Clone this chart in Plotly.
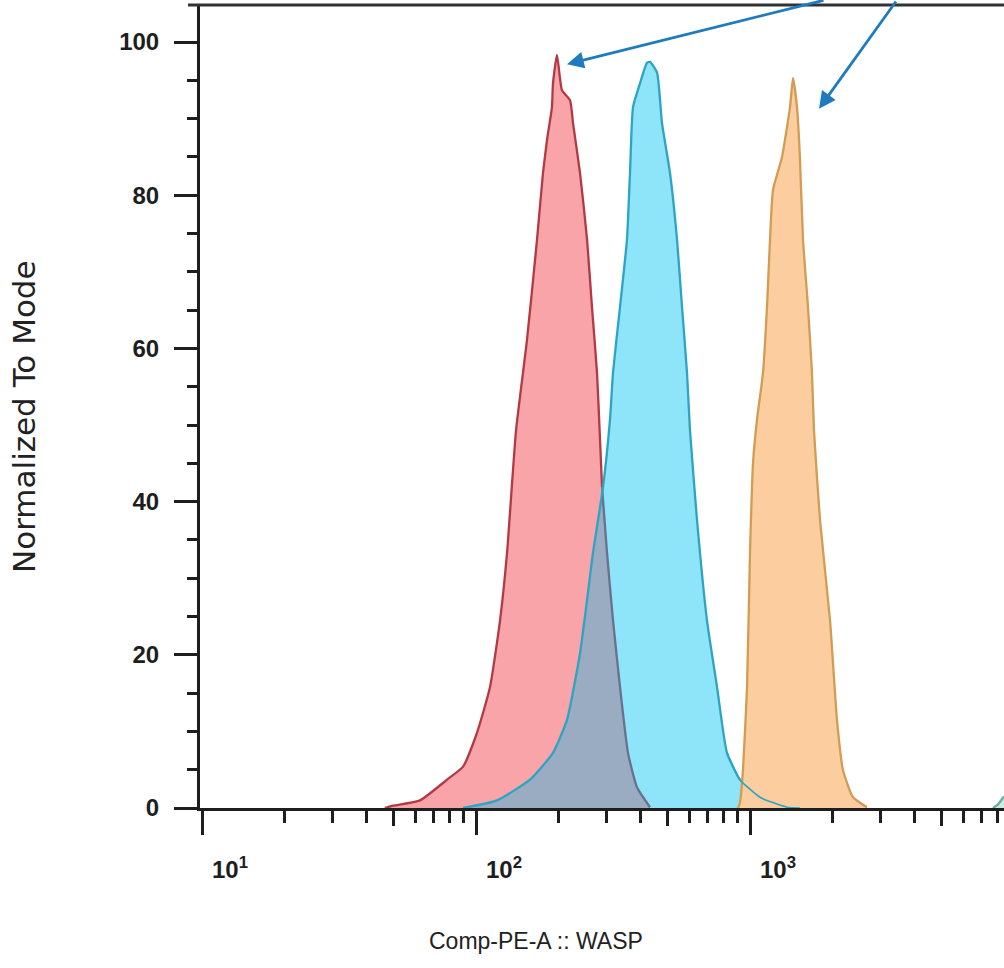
import numpy as np
import plotly.graph_objects as go

# ---------------- data ----------------
red_x = [46.5, 49.8, 62.5, 78.4, 89.7, 100.8, 112.5, 122.4, 129.8, 140.0, 153.5, 167.0,
         175.6, 181.6, 189.3, 191.0, 197.5, 206.0, 220.4, 226.0, 239.7, 254.3, 265.0,
         276.5, 283.6, 288.4, 300.7, 316.2, 335.4, 358.7, 386.9, 431.5]
red_y = [0.0, 0.3, 1.0, 3.7, 5.4, 9.8, 15.8, 24.5, 33.3, 49.3, 61.1, 74.2,
         82.9, 87.2, 91.5, 94.6, 98.3, 93.7, 92.4, 89.4, 82.9, 74.2, 65.4,
         56.8, 48.0, 41.9, 33.3, 24.5, 15.8, 7.2, 2.7, 0.1]

cyan_x = [89.7, 119.3, 157.4, 191.0, 214.8, 239.7, 267.3, 290.8, 308.3, 316.2, 335.4,
          355.6, 364.8, 374.2, 396.7, 420.9, 431.5, 457.8, 477.4, 510.5, 541.6, 564.8,
          589.0, 604.0, 640.7, 696.6, 758.0, 824.2, 919.3, 1088.0, 1365.0, 1521.0]
cyan_y = [0.0, 1.0, 3.7, 7.2, 11.5, 20.2, 33.3, 41.9, 50.7, 56.8, 65.4,
          74.2, 82.9, 91.5, 94.6, 97.3, 97.4, 96.0, 89.4, 82.9, 74.2, 65.4,
          56.8, 49.3, 37.6, 24.5, 15.8, 7.2, 3.7, 1.4, 0.1, 0.0]

orange_x = [903.7, 919.3, 942.7, 975.4, 1000.0, 1025.6, 1060.5, 1115.4, 1153.6, 1183.0,
            1213.4, 1308.9, 1399.6, 1435.6, 1484.3, 1521.0, 1561.0, 1628.0, 1683.0,
            1712.0, 1801.0, 1959.0, 2077.0, 2183.0, 2377.0, 2673.0]
orange_y = [0.0, 0.7, 5.0, 15.8, 33.3, 45.0, 50.7, 56.8, 65.4, 74.2,
            80.7, 85.0, 91.5, 95.3, 91.5, 85.0, 74.2, 65.4, 56.8,
            49.3, 37.6, 24.5, 11.5, 5.0, 1.4, 0.1]

teal_x = [7700.0, 8000.0, 8450.0]
teal_y = [0.0, 0.4, 1.5]

y_major = [0, 20, 40, 60, 80, 100]
x_major = [10, 100, 1000]
x_major_text = ["10<sup>1</sup>", "10<sup>2</sup>", "10<sup>3</sup>"]
x_minor = [m * d for d in (10, 100, 1000) for m in range(2, 10)]
x_mid = [50, 500, 5000]

# ---------------- styling ----------------
RED_FILL, RED_LINE = "#f8a4a8", "#b23a44"
CYAN_FILL, CYAN_LINE = "#8ee4f8", "#2ea4c4"
OVER_FILL, OVER_LINE = "#9aacc2", "#69718c"
ORANGE_FILL, ORANGE_LINE = "#fcce9f", "#d29c52"
TEAL_FILL, TEAL_LINE = "#cdeae6", "#6aaea2"
AX = "#1e1e1e"
SMOOTH = 0.5

# overlap region of red & cyan (computed on a shared grid in log space)
lr, lc = np.log10(red_x), np.log10(cyan_x)
grid = np.unique(np.concatenate([lr, lc]))
grid = grid[(grid >= max(lr.min(), lc.min())) & (grid <= min(lr.max(), lc.max()))]
ov = np.minimum(np.interp(grid, lr, red_y), np.interp(grid, lc, cyan_y))
ov_x = 10 ** grid

split = 25  # red outline index where it enters the cyan region
fig = go.Figure()


def fill(x, y, c):
    fig.add_trace(go.Scatter(x=x, y=y, mode="lines", fill="tozeroy", fillcolor=c,
                             line=dict(width=0, color=c, shape="spline", smoothing=SMOOTH),
                             hoverinfo="skip", showlegend=False))


def outline(x, y, c, w=2.3):
    fig.add_trace(go.Scatter(x=x, y=y, mode="lines",
                             line=dict(width=w, color=c, shape="spline", smoothing=SMOOTH),
                             hoverinfo="skip", showlegend=False))


fill(red_x, red_y, RED_FILL)
fill(cyan_x, cyan_y, CYAN_FILL)
fill(ov_x, ov, OVER_FILL)
outline(red_x[:split + 1], red_y[:split + 1], RED_LINE)
outline(red_x[split:], red_y[split:], OVER_LINE)
outline(cyan_x, cyan_y, CYAN_LINE)
fill(orange_x, orange_y, ORANGE_FILL)
outline(orange_x, orange_y, ORANGE_LINE)
outline(cyan_x[-5:], cyan_y[-5:], CYAN_LINE, 1.6)
fill(teal_x, teal_y, TEAL_FILL)
outline(teal_x, teal_y, TEAL_LINE)

# helper trace on the second x axis so the mid-decade ticks exist
fig.add_trace(go.Scatter(x=[x_mid[0]], y=[0], xaxis="x2", mode="markers",
                         marker=dict(opacity=0), hoverinfo="skip", showlegend=False))

x_lo = 1 + (200 - 202) / 274
x_hi = 1 + (1004 - 202) / 274
y_hi = 104.83

tickfont = dict(family="Arial, Liberation Sans, sans-serif", size=24, color=AX, weight="bold")

fig.update_layout(
    width=1004, height=968,
    margin=dict(l=200, r=0, t=5, b=160),
    paper_bgcolor="white", plot_bgcolor="white",
    xaxis=dict(type="log", range=[x_lo, x_hi], showgrid=False, zeroline=False,
               showline=True, linecolor=AX, linewidth=3,
               tickmode="array", tickvals=x_major, ticktext=x_major_text,
               ticks="outside", ticklen=24, tickwidth=3, tickcolor=AX,
               tickfont=tickfont, ticklabelshift=28, ticklabelstandoff=14,
               minor=dict(tickmode="array", tickvals=x_minor, ticks="outside",
                          ticklen=12, tickwidth=2.5, tickcolor=AX, showgrid=False)),
    xaxis2=dict(type="log", range=[x_lo, x_hi], overlaying="x", side="bottom",
                anchor="y", showgrid=False, zeroline=False, showline=False,
                tickmode="array", tickvals=x_mid, ticks="outside", ticklen=17,
                tickwidth=2.5, tickcolor=AX, showticklabels=False),
    yaxis=dict(range=[0, y_hi], showgrid=False, zeroline=False,
               showline=True, linecolor=AX, linewidth=3,
               tickmode="array", tickvals=y_major,
               ticks="outside", ticklen=23, tickwidth=3, tickcolor=AX,
               tickfont=tickfont, ticklabelstandoff=10,
               minor=dict(dtick=5, ticks="outside", ticklen=10, tickwidth=2.5,
                          tickcolor=AX, showgrid=False)),
    shapes=[dict(type="line", xref="paper", yref="paper", x0=-12 / 804, x1=1, y0=1, y1=1,
                 line=dict(color="#333333", width=3))],
    annotations=[
        dict(text="Normalized To Mode", xref="paper", yref="paper",
             x=(24 - 200) / 804, y=(808 - 417) / 803, xanchor="center", yanchor="middle",
             textangle=-90, showarrow=False,
             font=dict(family="DejaVu Sans, Arial, sans-serif", size=31, color="#222222")),
        dict(text="Comp-PE-A :: WASP", xref="paper", yref="paper",
             x=(536 - 200) / 804, y=-(941 - 808) / 803, xanchor="center", yanchor="middle",
             showarrow=False,
             font=dict(family="Liberation Sans, Arial, sans-serif", size=23, color="#222222")),
        dict(text="", x=np.log10(214.8), y=97.1, xref="x", yref="y",
             showarrow=True, ax=258, ay=-73, arrowhead=2, arrowsize=1.2,
             arrowwidth=2.8, arrowcolor="#1f7bbf"),
        dict(text="", x=np.log10(1786), y=91.3, xref="x", yref="y",
             showarrow=True, ax=78, ay=-119, arrowhead=2, arrowsize=1.2,
             arrowwidth=2.8, arrowcolor="#1f7bbf"),
    ],
)

fig.write_html("out.html")
